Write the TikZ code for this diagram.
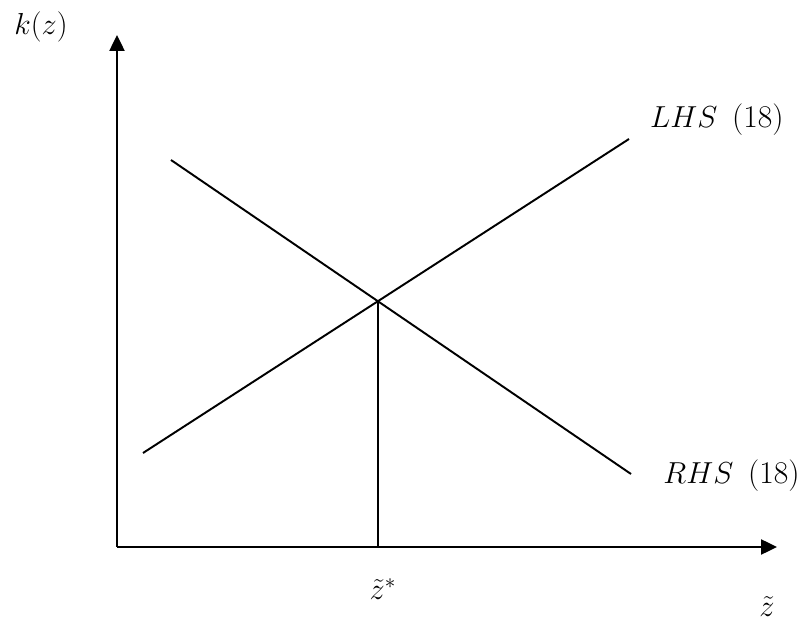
\documentclass[tikz,border=0pt]{standalone}
\usepackage{amsmath}
\usepackage{tikz}
\usetikzlibrary{calc, positioning, arrows.meta}

\begin{document}
\begin{tikzpicture}[x=0.2mm, y=-0.2mm, >={Triangle[length=3.2mm, width=3mm]},
    font=\fontsize{18}{21}\selectfont,
    axis/.style={->, line width=1.4pt},
    curve/.style={line width=1.1pt},
    lbl/.style={inner sep=0pt}]
  \useasboundingbox (0,0) rectangle (802,622);
  % axes
  \coordinate (O) at (117,547);
  \coordinate (ytop) at (117,35);
  \coordinate (xend) at (777,547);
  \draw[axis] (O) -- (ytop);
  \draw[axis] (O) -- (xend);
  % the two sides of (18)
  \coordinate (lhsA) at (143,453);
  \coordinate (lhsB) at (629,139);
  \coordinate (rhsA) at (171,160);
  \coordinate (rhsB) at (631,474);
  \draw[curve] (lhsA) -- (lhsB);
  \draw[curve] (rhsA) -- (rhsB);
  \coordinate (E) at (intersection of lhsA--lhsB and rhsA--rhsB);
  \draw[curve] (E) -- (E |- O);
  % labels
  \node[lbl] (kz) at (41,27) {$k(z)$};
  \node[lbl, anchor=east] (lhs) at (784,120) {$LHS$\,~(18)};
  \node[lbl, anchor=east] (rhs) at (800,476) {$RHS$\,~(18)};
  \node[lbl] (zstar) at ($(E |- O)+(5,42)$) {$\tilde{z}^*$};
  \node[lbl] (ztilde) at (767,607) {$\tilde{z}$};
\end{tikzpicture}
\end{document}
